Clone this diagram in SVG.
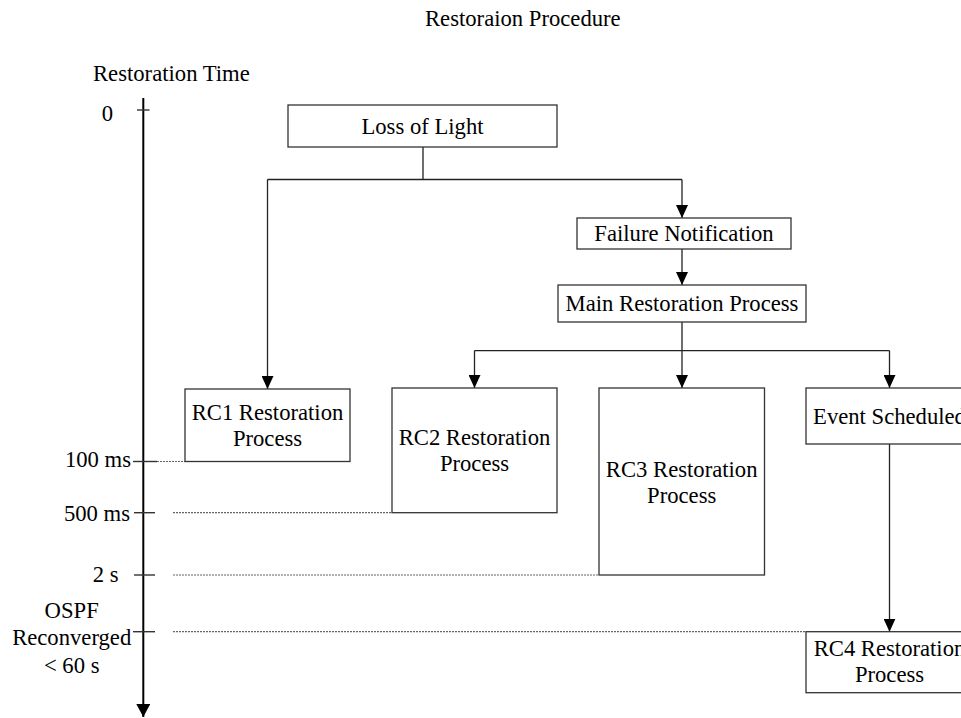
<svg xmlns="http://www.w3.org/2000/svg" width="961" height="718" viewBox="0 0 961 718">
<style>
text{font-family:"Liberation Serif","Times New Roman",serif;font-size:22.67px;fill:#000}
.c{text-anchor:middle}
.r{text-anchor:end}
.box{fill:#fff;stroke:#333;stroke-width:1.3}
.conn{fill:none;stroke:#222;stroke-width:1.3}
.dot{fill:none;stroke:#666;stroke-width:1.2;stroke-dasharray:2 1}
.tick{fill:none;stroke:#333;stroke-width:1.4}
</style>
<defs>
<marker id="arr" viewBox="0 0 13 12" refX="13" refY="6" markerWidth="13" markerHeight="12" markerUnits="userSpaceOnUse" orient="auto">
<path d="M0,0 L13,6 L0,12 z" fill="#000"/>
</marker>
<marker id="axarr" viewBox="0 0 13 14" refX="13" refY="7" markerWidth="13" markerHeight="14" markerUnits="userSpaceOnUse" orient="auto">
<path d="M0,0 L13,7 L0,14 z" fill="#000"/>
</marker>
</defs>
<rect width="961" height="718" fill="#fff"/>
<text x="425" y="26">Restoraion Procedure</text>
<g id="axis">
<text x="93" y="81">Restoration Time</text>
<line x1="143.3" y1="98" x2="143.3" y2="717" stroke="#000" stroke-width="2" marker-end="url(#axarr)"/>
<line class="tick" x1="137" y1="110" x2="149.5" y2="110"/>
<text class="c" x="107.5" y="121">0</text>
<text class="r" x="131" y="467">100 ms</text>
<line class="tick" x1="133" y1="461.5" x2="157" y2="461.5"/>
<line class="dot" x1="157" y1="461.5" x2="185" y2="461.5"/>
<text class="r" x="130" y="521">500 ms</text>
<line class="tick" x1="134" y1="512.7" x2="155" y2="512.7"/>
<line class="dot" x1="173" y1="512.7" x2="392" y2="512.7"/>
<text x="92.7" y="582">2 s</text>
<line class="tick" x1="134" y1="575" x2="155" y2="575"/>
<line class="dot" x1="173" y1="575" x2="599" y2="575"/>
<text class="c" x="71.7" y="618">OSPF</text>
<text class="c" x="71.7" y="645">Reconverged</text>
<text class="c" x="71.7" y="672.5">&lt; 60 s</text>
<line class="tick" x1="133" y1="631.7" x2="155" y2="631.7"/>
<line class="dot" x1="173" y1="631.7" x2="806" y2="631.7"/>
</g>
<g id="connectors">
<path class="conn" d="M423,147 V179.5 M267.5,179.5 H682"/>
<path class="conn" d="M267.5,179.5 V389" marker-end="url(#arr)"/>
<path class="conn" d="M682,179.5 V218" marker-end="url(#arr)"/>
<path class="conn" d="M682,249 V285" marker-end="url(#arr)"/>
<path class="conn" d="M682,322 V350.6 M474.5,350.6 H889.5"/>
<path class="conn" d="M474.5,350.6 V388" marker-end="url(#arr)"/>
<path class="conn" d="M682,350.6 V388" marker-end="url(#arr)"/>
<path class="conn" d="M889.5,350.6 V388" marker-end="url(#arr)"/>
<path class="conn" d="M889.5,444 V631.7" marker-end="url(#arr)"/>
</g>
<g id="loss">
<rect class="box" x="288" y="105" width="269" height="42"/>
<text class="c" x="422.5" y="134">Loss of Light</text>
</g>
<g id="failure">
<rect class="box" x="577" y="218" width="214" height="31"/>
<text class="c" x="684" y="241">Failure Notification</text>
</g>
<g id="main">
<rect class="box" x="558" y="285" width="248" height="37"/>
<text class="c" x="682" y="311">Main Restoration Process</text>
</g>
<g id="rc1">
<rect class="box" x="185" y="389" width="165" height="72.5"/>
<text class="c" x="267.5" y="419.5">RC1 Restoration</text>
<text class="c" x="267.5" y="445.5">Process</text>
</g>
<g id="rc2">
<rect class="box" x="392" y="388" width="165" height="124.7"/>
<text class="c" x="474.5" y="445">RC2 Restoration</text>
<text class="c" x="474.5" y="471">Process</text>
</g>
<g id="rc3">
<rect class="box" x="599" y="388" width="165.5" height="187"/>
<text class="c" x="681.7" y="476.5">RC3 Restoration</text>
<text class="c" x="681.7" y="502.5">Process</text>
</g>
<g id="event">
<rect class="box" x="806" y="388" width="167" height="56"/>
<text class="c" x="889.5" y="423.5">Event Scheduled</text>
</g>
<g id="rc4">
<rect class="box" x="806" y="631.7" width="167" height="61"/>
<text class="c" x="889.5" y="655.5">RC4 Restoration</text>
<text class="c" x="889.5" y="681.7">Process</text>
</g>
</svg>
